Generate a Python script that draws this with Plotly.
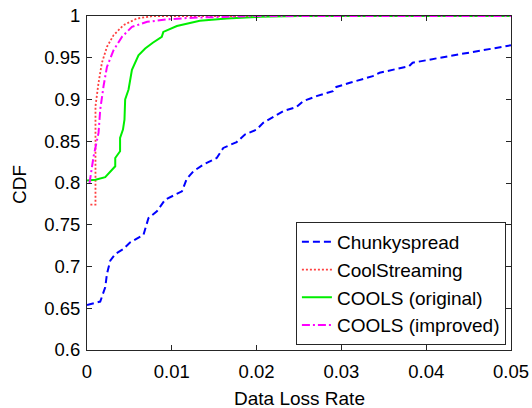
import plotly.graph_objects as go

# Chunkyspread
chunky_x = [0, 0.00156, 0.00215, 0.00235, 0.00274, 0.00333, 0.0043, 0.0051, 0.00666, 0.00725,
            0.00824, 0.00921, 0.0112, 0.01176, 0.01254, 0.01372, 0.0153, 0.01607, 0.01765,
            0.01862, 0.0200, 0.02078, 0.02313, 0.0247, 0.02548, 0.02706, 0.0290, 0.0294,
            0.0310, 0.0337, 0.0345, 0.0380, 0.0384, 0.0420, 0.0427, 0.0467, 0.0500]
chunky_y = [0.654, 0.658, 0.675, 0.691, 0.707, 0.715, 0.721, 0.729, 0.738, 0.758,
            0.766, 0.780, 0.790, 0.805, 0.814, 0.822, 0.830, 0.842, 0.849,
            0.858, 0.864, 0.872, 0.886, 0.891, 0.898, 0.904, 0.910, 0.915,
            0.920, 0.928, 0.932, 0.940, 0.944, 0.950, 0.952, 0.959, 0.965]

# CoolStreaming
cool_x = [0.0004, 0.0010, 0.0010, 0.0010, 0.00136, 0.00176, 0.00235, 0.00313, 0.0043,
          0.00588, 0.00784, 0.0500]
cool_y = [0.774, 0.774, 0.800, 0.892, 0.920, 0.944, 0.963, 0.977, 0.989,
          0.997, 1.000, 1.000]

# COOLS (original)
orig_x = [0, 0.0010, 0.00215, 0.00274, 0.00333, 0.00333, 0.0039, 0.0039, 0.00424, 0.00442,
          0.0045, 0.0049, 0.0053, 0.00607, 0.00686, 0.00776, 0.00882, 0.0090, 0.0106,
          0.0133, 0.0165, 0.0204, 0.0250, 0.0500]
orig_y = [0.803, 0.804, 0.807, 0.814, 0.820, 0.830, 0.838, 0.854, 0.864, 0.876,
          0.900, 0.912, 0.9355, 0.953, 0.961, 0.968, 0.975, 0.981, 0.988,
          0.9944, 0.997, 0.999, 1.000, 1.000]

# COOLS (improved)
impr_x = [0.0003, 0.0006, 0.00078, 0.00136, 0.00156, 0.00195, 0.00235, 0.00313, 0.00412,
          0.0053, 0.0071, 0.0094, 0.0125, 0.0200, 0.0500]
impr_y = [0.800, 0.820, 0.832, 0.860, 0.888, 0.916, 0.939, 0.959, 0.975,
          0.987, 0.993, 0.996, 0.998, 1.000, 1.000]

x_ticks = [0, 0.01, 0.02, 0.03, 0.04, 0.05]
x_labels = ["0", "0.01", "0.02", "0.03", "0.04", "0.05"]
y_ticks = [0.6, 0.65, 0.7, 0.75, 0.8, 0.85, 0.9, 0.95, 1.0]
y_labels = ["0.6", "0.65", "0.7", "0.75", "0.8", "0.85", "0.9", "0.95", "1"]

FONT = "Liberation Sans, Arial, sans-serif"

fig = go.Figure()
fig.add_trace(go.Scatter(x=chunky_x, y=chunky_y, mode="lines", name="Chunkyspread",
                         line=dict(color="#0000ff", width=2, dash="7px,4px")))
fig.add_trace(go.Scatter(x=cool_x, y=cool_y, mode="lines", name="CoolStreaming",
                         line=dict(color="#ff4040", width=1.8, dash="2px,2px")))
fig.add_trace(go.Scatter(x=orig_x, y=orig_y, mode="lines", name="COOLS (original)",
                         line=dict(color="#00ee00", width=2)))
fig.add_trace(go.Scatter(x=impr_x, y=impr_y, mode="lines", name="COOLS (improved)",
                         line=dict(color="#ff00ff", width=2, dash="8px,3px,2px,3px")))

axis_common = dict(showline=True, linecolor="#262626", linewidth=1, mirror="allticks",
                   ticks="inside", ticklen=5, tickcolor="#262626", showgrid=False,
                   zeroline=False, automargin=False,
                   tickfont=dict(family=FONT, size=18.5, color="black"))

fig.update_layout(
    width=532, height=408,
    margin=dict(l=87, r=21, t=16, b=58),
    paper_bgcolor="white", plot_bgcolor="white",
    font=dict(family=FONT, size=19, color="black"),
    xaxis=dict(range=[0, 0.05], tickvals=x_ticks, ticktext=x_labels,
               ticklabelstandoff=5, **axis_common),
    yaxis=dict(range=[0.6, 1.0], tickvals=y_ticks, ticktext=y_labels,
               ticklabelstandoff=2, **axis_common),
    legend=dict(x=0.988, y=0.015, xanchor="right", yanchor="bottom",
                bgcolor="white", bordercolor="#262626", borderwidth=1,
                font=dict(family=FONT, size=19), tracegroupgap=0, itemwidth=30),
    showlegend=True,
    annotations=[
        dict(text="Data Loss Rate", xref="paper", yref="paper", x=0.5, y=0,
             xanchor="center", yanchor="middle", yshift=-48, showarrow=False,
             font=dict(family=FONT, size=19, color="black")),
        dict(text="CDF", xref="paper", yref="paper", x=0, y=0.494, textangle=-90,
             xanchor="center", yanchor="middle", xshift=-68, showarrow=False,
             font=dict(family=FONT, size=19, color="black")),
    ],
)

fig.write_html("out.html")
